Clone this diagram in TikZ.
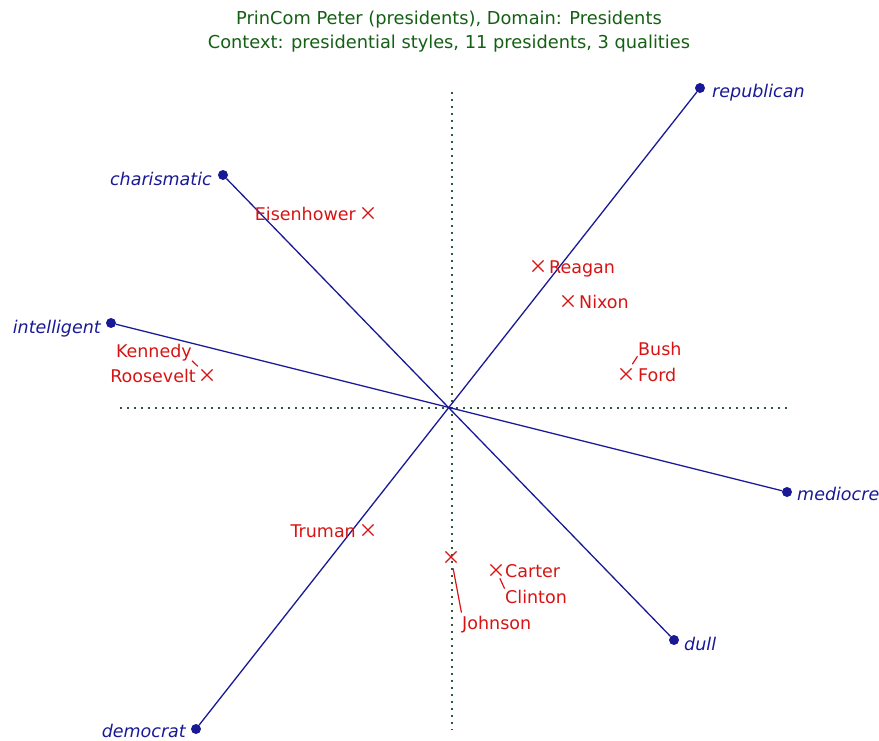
\documentclass[tikz,border=0pt]{standalone}
\usepackage{fontspec}
\setmainfont{DejaVu Sans}
\usetikzlibrary{shapes.misc}
\definecolor{titlegreen}{RGB}{20,95,20}
\definecolor{axisblue}{RGB}{25,25,150}
\definecolor{presred}{RGB}{215,20,20}
\definecolor{dotgreen}{RGB}{40,90,60}
\begin{document}
\begin{tikzpicture}[x=1pt,y=-1pt,
  title/.style={text=titlegreen,font=\fontsize{17.8}{19}\selectfont,inner sep=0pt},
  pole/.style={circle,fill=axisblue,inner sep=0pt,minimum size=10pt},
  polelabel/.style={text=axisblue,font=\fontsize{17.5}{19}\selectfont\itshape,inner sep=0pt},
  axis/.style={axisblue,line width=1.3pt},
  guide/.style={dotgreen,line width=1.5pt,dash pattern=on 1.5pt off 5.5pt},
  pres/.style={draw=presred,cross out,line width=1.2pt,minimum size=10pt,inner sep=0pt},
  preslabel/.style={text=presred,font=\fontsize{17.5}{19}\selectfont,inner sep=0pt},
  leader/.style={presred,line width=1.2pt}]
\useasboundingbox (0,0) rectangle (879,740);

% heading
\node[title,anchor=base] (t1) at (449,24) {PrinCom Peter (presidents), Domain: Presidents};
\node[title,anchor=base] (t2) at (449,48) {Context: presidential styles, 11 presidents, 3 qualities};

% dotted reference axes
\coordinate (vtop) at (452,92);
\coordinate (vbot) at (452,730);
\coordinate (hleft) at (120,408);
\coordinate (hright) at (790,408);
\draw[guide] (vtop) -- (vbot);
\draw[guide] (hleft) -- (hright);

% quality poles
\node[pole] (rep) at (700,88) {};
\node[pole] (dem) at (196,729) {};
\node[pole] (cha) at (223,175) {};
\node[pole] (dul) at (674,640) {};
\node[pole] (int) at (111,323) {};
\node[pole] (med) at (787,492) {};
\draw[axis] (rep) -- (dem);
\draw[axis] (cha) -- (dul);
\draw[axis] (int) -- (med);

\node[polelabel,anchor=base west] (repl) at (712,97) {republican};
\node[polelabel,anchor=base east] (deml) at (186,737) {democrat};
\node[polelabel,anchor=base east] (chal) at (212,185) {charismatic};
\node[polelabel,anchor=base west] (dull) at (684,650) {dull};
\node[polelabel,anchor=base east] (intl) at (101,333) {intelligent};
\node[polelabel,anchor=base west] (medl) at (797,500) {mediocre};

% presidents
\node[pres] (eisx) at (368,213) {};
\node[preslabel,anchor=base east] (eis) at (356,220) {Eisenhower};
\node[pres] (reax) at (538,266) {};
\node[preslabel,anchor=base west] (rea) at (549,273) {Reagan};
\node[pres] (nixx) at (568,301) {};
\node[preslabel,anchor=base west] (nix) at (579,308) {Nixon};
\node[pres] (forx) at (626,374) {};
\node[preslabel,anchor=base west] (bus) at (638,355) {Bush};
\node[preslabel,anchor=base west] (for) at (638,381) {Ford};
\draw[leader,shorten <=5pt,shorten >=1pt] (forx) -- (bus.south west);
\node[pres] (roox) at (207,375) {};
\node[preslabel,anchor=base east] (ken) at (192,357) {Kennedy};
\node[preslabel,anchor=base east] (roo) at (196,382) {Roosevelt};
\draw[leader,shorten <=0pt,shorten >=5pt] (ken.south east) -- (roox);
\node[pres] (trux) at (368,530) {};
\node[preslabel,anchor=base east] (tru) at (356,537) {Truman};
\node[pres] (johx) at (451,557) {};
\node[preslabel,anchor=base west] (joh) at (462,629) {Johnson};
\draw[leader,shorten <=6pt,shorten >=3pt] (johx) -- (joh.north west);
\node[pres] (carx) at (496,570) {};
\node[preslabel,anchor=base west] (car) at (505,577) {Carter};
\node[preslabel,anchor=base west] (cli) at (505,603) {Clinton};
\draw[leader,shorten <=3pt,shorten >=1pt] (carx) -- (cli.north west);
\end{tikzpicture}
\end{document}
